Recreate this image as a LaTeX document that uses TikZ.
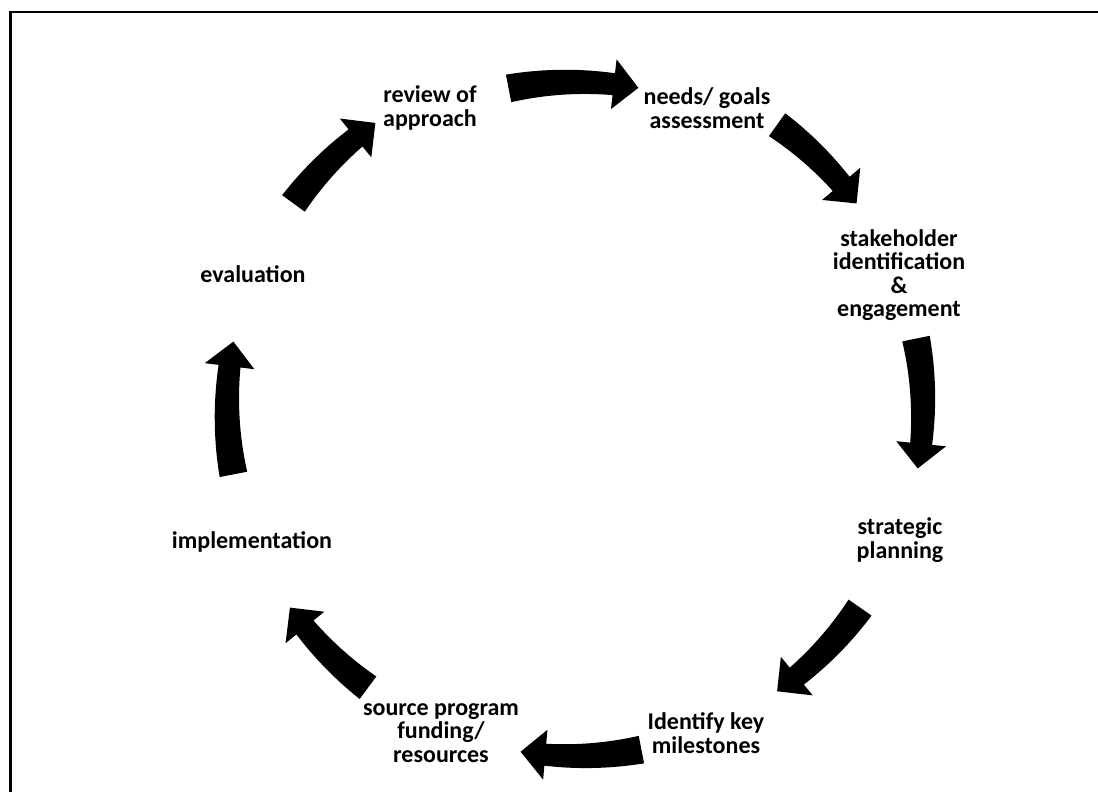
\documentclass[tikz,border=0pt]{standalone}
\usepackage{fontspec}
\setmainfont{Carlito}
\begin{document}
% tapered curved arrow: #1 centre name, #2 radius, #3 start angle, #4 tip angle (clockwise)
\newcommand\cyarrow[4]{%
  \pgfmathsetmacro\hb{#4+4.1}%
  \fill[cycfill, shift={(#1)}]
    plot[domain=#3:\hb, samples=24, variable=\t]
      ({(#2+14-3*(\t-(#3))/(\hb-(#3)))*cos(\t)}, {(#2+14-3*(\t-(#3))/(\hb-(#3)))*sin(\t)})
    -- ({(#2+25)*cos(\hb)}, {(#2+25)*sin(\hb)})
    -- ({#2*cos(#4)}, {#2*sin(#4)})
    -- ({(#2-25)*cos(\hb)}, {(#2-25)*sin(\hb)})
    -- plot[domain=\hb:#3, samples=24, variable=\t]
      ({(#2-14+3*(\t-(#3))/(\hb-(#3)))*cos(\t)}, {(#2-14+3*(\t-(#3))/(\hb-(#3)))*sin(\t)})
    -- cycle;}
\begin{tikzpicture}[x=0.5pt,y=0.5pt,
  lbl/.style={font=\bfseries\fontsize{12}{11.7}\selectfont, align=center, inner sep=0pt},
  cycfill/.style={fill=black},
  frame/.style={line width=1.3pt, line cap=rect}]
\useasboundingbox (0,0) rectangle (1098,792);
\fill[white] (0,0) rectangle (1098,792);
% frame (top and left edges only visible)
\coordinate (fb) at (10.5,-10);
\coordinate (fc) at (10.5,780);
\coordinate (fr) at (1110,780);
\draw[frame] (fb) -- (fc) -- (fr);
% labels
\node[lbl] (n1) at (430,684) {review of\\approach};
\node[lbl] (n2) at (707,684) {needs/ goals\\assessment};
\node[lbl] (n3) at (899,517) {stakeholder\\identification\\\&\\engagement};
\node[lbl] (n4) at (900,252) {strategic\\planning};
\node[lbl] (n5) at (706,59) {Identify key\\milestones};
\node[lbl] (n6) at (441,59) {source program\\funding/\\resources};
\node[lbl] (n7) at (252,250) {implementation};
\node[lbl] (n8) at (253,518) {evaluation};
% cycle arrows
\coordinate (c) at (575,384);
\coordinate (ct) at (575,362);
\cyarrow{ct}{348}{101}{79.5}
\cyarrow{c}{348}{54.5}{36}
\cyarrow{c}{348}{11.5}{-10}
\cyarrow{c}{348}{-35}{-54.5}
\cyarrow{c}{348}{-79}{-99}
\cyarrow{c}{348}{-126.5}{-145}
\cyarrow{c}{348}{191}{169}
\cyarrow{c}{348}{144}{125}
\end{tikzpicture}
\end{document}
